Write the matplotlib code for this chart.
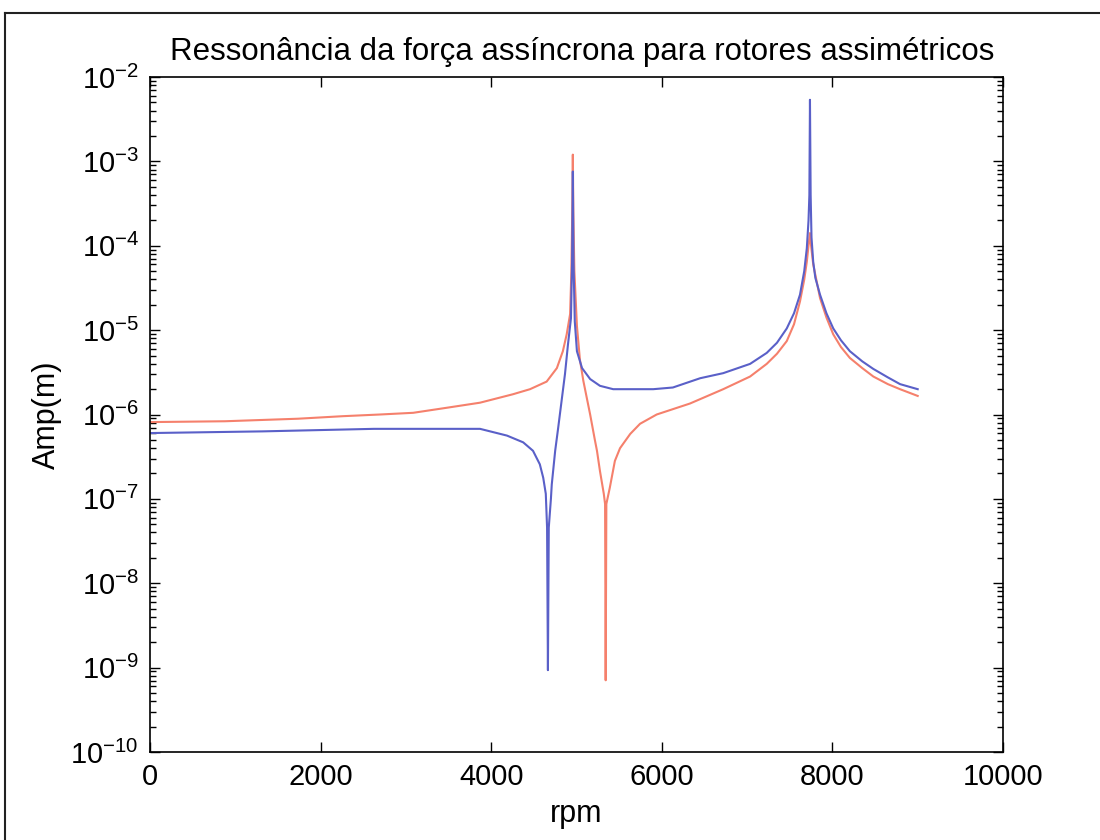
import numpy as np
import matplotlib
matplotlib.use("Agg")
import matplotlib.pyplot as plt
from matplotlib.lines import Line2D
from matplotlib.ticker import LogLocator, FixedLocator, NullFormatter

# curvas (expoentes log10 da amplitude em m)
rpm_red = [0, 880, 1735, 2260, 2696, 3085, 3480, 3869, 4255, 4455, 4650, 4770,
           4840, 4885, 4925, 4940, 4950, 4957, 4963, 4975, 5005, 5040, 5080,
           5120, 5160, 5215, 5240, 5275, 5320, 5335, 5342, 5350, 5390, 5450,
           5510, 5545, 5630, 5745, 5940, 6330, 6720, 7035, 7230, 7350, 7465,
           7550, 7620, 7670, 7700, 7720, 7737, 7750, 7775, 7855, 7930, 8010,
           8100, 8205, 8350, 8480, 8650, 8793, 9000]
log_red = [-6.09, -6.08, -6.05, -6.02, -6.00, -5.98, -5.92, -5.86, -5.76, -5.70,
           -5.61, -5.45, -5.25, -5.05, -4.81, -4.30, -3.60, -2.92, -3.60, -4.30,
           -4.95, -5.35, -5.60, -5.80, -6.00, -6.30, -6.43, -6.67, -6.94, -7.06,
           -9.15, -7.06, -6.87, -6.55, -6.40, -6.35, -6.23, -6.11, -6.00, -5.87,
           -5.70, -5.55, -5.40, -5.28, -5.13, -4.93, -4.66, -4.40, -4.19, -4.00,
           -3.85, -4.00, -4.22, -4.62, -4.85, -5.05, -5.20, -5.33, -5.45, -5.55,
           -5.64, -5.70, -5.78]

rpm_blue = [0, 1320, 2625, 3869, 4185, 4375, 4490, 4570, 4610, 4640, 4655, 4665,
            4675, 4700, 4710, 4750, 4785, 4825, 4865, 4900, 4935, 4948, 4957,
            4965, 4980, 5005, 5065, 5160, 5275, 5430, 5900, 6130, 6450, 6720,
            7035, 7230, 7350, 7465, 7550, 7620, 7670, 7700, 7720, 7730, 7737,
            7745, 7755, 7775, 7800, 7855, 7930, 8010, 8100, 8205, 8350, 8480,
            8650, 8793, 9000]
log_blue = [-6.22, -6.20, -6.17, -6.17, -6.25, -6.33, -6.43, -6.59, -6.75, -6.94,
            -7.34, -9.03, -7.34, -7.00, -6.83, -6.43, -6.16, -5.84, -5.52, -5.17,
            -4.86, -4.20, -3.12, -4.20, -4.90, -5.25, -5.45, -5.58, -5.66, -5.70,
            -5.70, -5.68, -5.57, -5.51, -5.40, -5.27, -5.15, -4.98, -4.80, -4.58,
            -4.30, -4.03, -3.70, -3.40, -2.27, -3.40, -3.90, -4.19, -4.38, -4.58,
            -4.80, -4.98, -5.12, -5.25, -5.37, -5.46, -5.56, -5.64, -5.70]

x_ticks = [0, 2000, 4000, 6000, 8000, 10000]
y_exps = list(range(-10, -1))

font = ["Liberation Sans Narrow", "Liberation Sans", "DejaVu Sans"]
plt.rcParams["font.family"] = font
plt.rcParams["mathtext.fontset"] = "custom"
plt.rcParams["mathtext.rm"] = "Liberation Sans Narrow"
plt.rcParams["mathtext.it"] = "Liberation Sans Narrow"

fig = plt.figure(figsize=(11, 8.4), dpi=100)
ax = fig.add_axes([150 / 1100, 88 / 840, 853 / 1100, 675 / 840])

ax.plot(rpm_red, 10 ** np.array(log_red), color="#f5806c", lw=1.5)
ax.plot(rpm_blue, 10 ** np.array(log_blue), color="#5a60c8", lw=1.5)

ax.set_yscale("log")
ax.set_xlim(0, 10000)
ax.set_ylim(1e-10, 1e-2)

ax.xaxis.set_major_locator(FixedLocator(x_ticks))
ax.set_xticklabels([str(t) for t in x_ticks])
ax.yaxis.set_major_locator(FixedLocator([10.0 ** e for e in y_exps]))
ax.set_yticklabels([r"$\mathregular{10^{%d}}$" % e for e in y_exps])
ax.yaxis.set_minor_locator(LogLocator(base=10, subs=np.arange(2, 10), numticks=20))
ax.yaxis.set_minor_formatter(NullFormatter())

ax.tick_params(which="both", direction="in", top=True, right=True, width=1.0, colors="black")
ax.tick_params(which="major", length=7, labelsize=21, pad=8)
ax.tick_params(which="minor", length=4)
for s in ax.spines.values():
    s.set_linewidth(1.2)

ax.set_xlabel("rpm", fontsize=22, labelpad=6)
ax.set_ylabel("Amp(m)", fontsize=22, labelpad=6)
fig.text(582 / 1100, 1 - 52 / 840, "Ressonância da força assíncrona para rotores assimétricos",
         ha="center", va="center", fontsize=22.5)

# moldura da imagem original
fig.add_artist(Line2D([5 / 1100, 1], [1 - 13 / 840, 1 - 13 / 840], transform=fig.transFigure, color="#222222", lw=1.5))
fig.add_artist(Line2D([5 / 1100, 5 / 1100], [0, 1 - 13 / 840], transform=fig.transFigure, color="#222222", lw=1.5))

fig.savefig("out.png", dpi=100)
